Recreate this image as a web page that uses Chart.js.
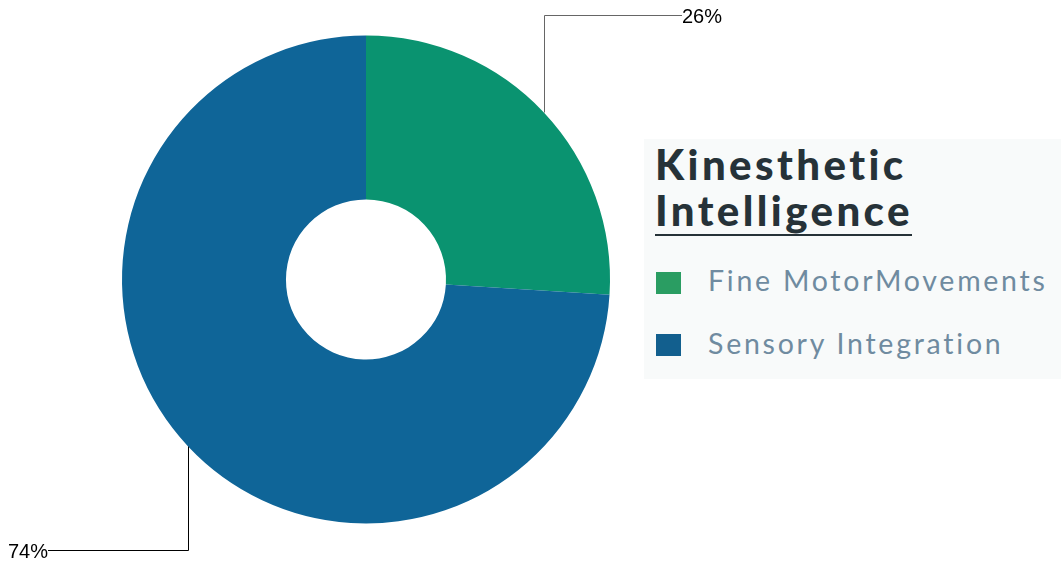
<!DOCTYPE html>
<html>
<head>
<meta charset="utf-8">
<script src="https://cdn.jsdelivr.net/npm/chart.js@4.4.1/dist/chart.umd.min.js"></script>
<style>
  html, body { margin: 0; padding: 0; background: #ffffff; }
  #wrap { position: relative; width: 1063px; height: 564px; overflow: hidden; }
  #chart { position: absolute; left: 0; top: 0; }
  #legendBox {
    position: absolute; left: 644px; top: 139px; width: 417px; height: 240px;
    background: #f8fafa;
  }
  .ttl {
    position: absolute; left: 655px; margin: 0;
    font-family: Lato, "Open Sans", sans-serif; font-weight: 900;
    font-size: 42px; line-height: 50.4px; color: #263238; white-space: nowrap;
    letter-spacing: 3.4px;
  }
  #ttlRule { position: absolute; left: 655px; top: 234px; height: 1.5px; background: #263238; }
  .item {
    position: absolute; left: 708px;
    font-family: Lato, "Open Sans", sans-serif; font-weight: 400;
    font-size: 28.5px; line-height: 34.2px; color: #6f8ba0; white-space: nowrap;
    letter-spacing: 2.75px;
  }
  .swatch { position: absolute; left: 656px; width: 25px; height: 22px; }
</style>
</head>
<body>
<div id="wrap">
  <canvas id="chart" width="1063" height="564"></canvas>
  <div id="legendBox"></div>
  <div id="legendLayer"></div>
</div>
<script>
// Slice data
const categories = ['Fine MotorMovements', 'Sensory Integration'];
const values = [26, 74];
const sliceColors = ['#0a9370', '#0f6598'];
const swatchColors = ['#2a9d62', '#125f8e'];
const titleLines = ['Kinesthetic', 'Intelligence'];

const total = values.reduce((a, b) => a + b, 0);
const pctLabel = v => Math.round(v / total * 100) + '%';

// Legend panel (title + swatches), built from the arrays above
const layer = document.getElementById('legendLayer');
const titleBaselines = [180, 226];
titleLines.forEach((t, i) => {
  const d = document.createElement('div');
  d.className = 'ttl';
  d.textContent = t;
  d.style.top = (titleBaselines[i] - 42 * 0.987) + 'px';
  layer.appendChild(d);
});
const rule = document.createElement('div');
rule.id = 'ttlRule';
layer.appendChild(rule);

const itemBaselines = [290.7, 354];
const swatchTops = [272, 334];
categories.forEach((c, i) => {
  const sw = document.createElement('div');
  sw.className = 'swatch';
  sw.style.top = swatchTops[i] + 'px';
  sw.style.background = swatchColors[i];
  layer.appendChild(sw);
  const t = document.createElement('div');
  t.className = 'item';
  t.textContent = c;
  t.style.top = (itemBaselines[i] - 28.5 * 0.987) + 'px';
  layer.appendChild(t);
});
// rule spans the widest title line
requestAnimationFrame(() => {
  const w = Math.max(...Array.from(document.querySelectorAll('.ttl')).map(e => e.getBoundingClientRect().width));
  rule.style.width = (w - 1) + 'px';
});

// Elbow leader lines from each slice's outer mid-point to its percentage label
const leaderLines = {
  id: 'leaderLines',
  afterDatasetsDraw(chart, args, opts) {
    const ctx = chart.ctx;
    const meta = chart.getDatasetMeta(0);
    meta.data.forEach((arc, i) => {
      const p = arc.getProps(['x', 'y', 'startAngle', 'endAngle', 'outerRadius'], true);
      const mid = (p.startAngle + p.endAngle) / 2;
      const ax = Math.round(p.x + Math.cos(mid) * p.outerRadius) + 0.5;
      const ay = p.y + Math.sin(mid) * p.outerRadius;
      const cfg = opts.items[i];
      ctx.save();
      ctx.strokeStyle = cfg.color;
      ctx.lineWidth = 1;
      ctx.beginPath();
      ctx.moveTo(ax, ay);
      ctx.lineTo(ax, cfg.y + 0.5);
      ctx.lineTo(cfg.x, cfg.y + 0.5);
      ctx.stroke();
      ctx.fillStyle = '#000000';
      ctx.font = '20px "Liberation Sans", Arial, sans-serif';
      ctx.textBaseline = 'alphabetic';
      ctx.textAlign = cfg.align;
      ctx.fillText(pctLabel(values[i]), cfg.x, cfg.y + 8);
      ctx.restore();
    });
  }
};

new Chart(document.getElementById('chart'), {
  type: 'doughnut',
  data: {
    labels: categories,
    datasets: [{
      data: values,
      backgroundColor: sliceColors,
      borderWidth: 0
    }]
  },
  options: {
    responsive: false,
    animation: false,
    cutout: '32.8%',
    layout: { padding: { left: 122, right: 453, top: 35, bottom: 40 } },
    events: [],
    plugins: {
      legend: { display: false },
      tooltip: { enabled: false },
      leaderLines: {
        items: [
          { x: 682, y: 15, align: 'left', color: '#666666' },
          { x: 48, y: 550, align: 'right', color: '#000000' }
        ]
      }
    }
  },
  plugins: [leaderLines]
});
</script>
</body>
</html>
